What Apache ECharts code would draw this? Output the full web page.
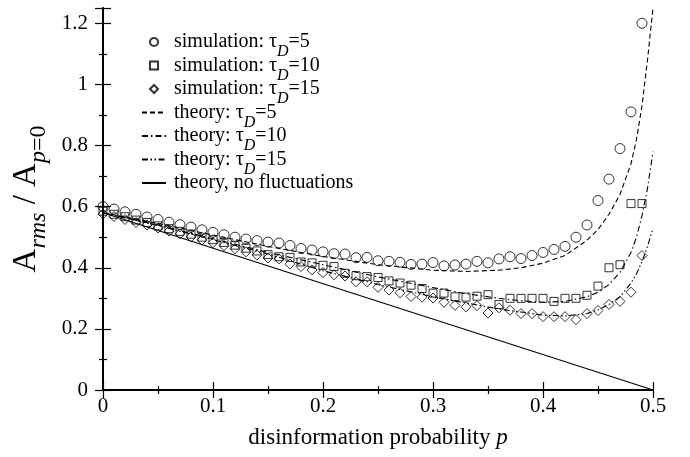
<!DOCTYPE html>
<html>
<head>
<meta charset="utf-8">
<script src="https://cdn.jsdelivr.net/npm/echarts@6/dist/echarts.min.js"></script>
<style>
  html, body { margin: 0; padding: 0; background: #fff; }
  #chart { width: 690px; height: 457px; }
</style>
</head>
<body>
<div id="chart"></div>
<script>
// simulation points, p in steps of 0.01
const pSim = [0, 0.01, 0.02, 0.03, 0.04, 0.05, 0.06, 0.07, 0.08, 0.09,
    0.10, 0.11, 0.12, 0.13, 0.14, 0.15, 0.16, 0.17, 0.18, 0.19,
    0.20, 0.21, 0.22, 0.23, 0.24, 0.25, 0.26, 0.27, 0.28, 0.29,
    0.30, 0.31, 0.32, 0.33, 0.34, 0.35, 0.36, 0.37, 0.38, 0.39,
    0.40, 0.41, 0.42, 0.43, 0.44, 0.45, 0.46, 0.47, 0.48, 0.49];
const sim5 = [0.600, 0.592, 0.583, 0.575, 0.566, 0.558, 0.549, 0.541, 0.533, 0.524,
    0.516, 0.508, 0.500, 0.494, 0.489, 0.484, 0.481, 0.473, 0.463, 0.458,
    0.452, 0.446, 0.445, 0.433, 0.434, 0.423, 0.421, 0.418, 0.411, 0.412,
    0.417, 0.406, 0.409, 0.412, 0.421, 0.416, 0.429, 0.436, 0.430, 0.440,
    0.450, 0.460, 0.470, 0.500, 0.540, 0.620, 0.690, 0.790, 0.910, 1.200];
const sim10 = [0.585, 0.575, 0.567, 0.556, 0.548, 0.537, 0.528, 0.519, 0.510, 0.500,
    0.492, 0.483, 0.474, 0.464, 0.455, 0.443, 0.436, 0.434, 0.419, 0.416,
    0.408, 0.404, 0.382, 0.374, 0.371, 0.368, 0.357, 0.350, 0.343, 0.332,
    0.317, 0.317, 0.305, 0.304, 0.307, 0.312, 0.280, 0.300, 0.300, 0.300,
    0.300, 0.290, 0.300, 0.300, 0.310, 0.340, 0.400, 0.410, 0.610, 0.610];
const sim15 = [0.576, 0.568, 0.558, 0.548, 0.540, 0.530, 0.520, 0.511, 0.501, 0.491,
    0.482, 0.472, 0.462, 0.452, 0.442, 0.432, 0.429, 0.412, 0.404, 0.393,
    0.384, 0.377, 0.373, 0.354, 0.354, 0.336, 0.327, 0.318, 0.306, 0.304,
    0.301, 0.287, 0.277, 0.272, 0.276, 0.252, 0.269, 0.261, 0.250, 0.250,
    0.240, 0.240, 0.240, 0.230, 0.250, 0.260, 0.280, 0.290, 0.320, 0.440];

// theory curves
const pTh = [0, 0.05, 0.10, 0.15, 0.20, 0.25, 0.30, 0.33, 0.36, 0.38, 0.40,
    0.42, 0.44, 0.45, 0.46, 0.47, 0.48, 0.485, 0.49, 0.495, 0.50];
const th5 = [0.58, 0.545, 0.507, 0.470, 0.437, 0.410, 0.392, 0.388, 0.392, 0.400, 0.415,
    0.440, 0.490, 0.525, 0.575, 0.640, 0.740, 0.820, 0.930, 1.080, 1.250];
const th10 = [0.58, 0.540, 0.495, 0.450, 0.410, 0.370, 0.335, 0.315, 0.300, 0.292, 0.287,
    0.290, 0.305, 0.320, 0.345, 0.385, 0.450, 0.500, 0.570, 0.660, 0.780];
const th15 = [0.58, 0.538, 0.492, 0.445, 0.390, 0.345, 0.305, 0.285, 0.265, 0.255, 0.245,
    0.242, 0.250, 0.262, 0.280, 0.305, 0.350, 0.380, 0.420, 0.470, 0.530];
const pLin = [0, 0.5];
const thLin = [0.58, 0];

const legendText = {
    sim5: 'simulation: τ{d|D}=5',
    sim10: 'simulation: τ{d|D}=10',
    sim15: 'simulation: τ{d|D}=15',
    th5: 'theory: τ{d|D}=5',
    th10: 'theory: τ{d|D}=10',
    th15: 'theory: τ{d|D}=15',
    th0: 'theory, no fluctuations'
};

const font = 'Liberation Serif';
const pairs = (xs, ys) => xs.map((x, i) => [x, ys[i]]);

const chart = echarts.init(document.getElementById('chart'));

const frame = { lineStyle: { color: '#000', width: 2 } };
const frame2 = { lineStyle: { color: '#000', width: 1.5 } };
const tick = { inside: true, length: 8, lineStyle: { color: '#000', width: 1.2 } };
const minor = { show: true, splitNumber: 2, length: 4, lineStyle: { color: '#000', width: 1.2 } };

const simStyle = (name, symbol, size, data) => ({
    name: name,
    type: 'scatter',
    symbol: symbol,
    symbolSize: size,
    data: data,
    z: 5,
    itemStyle: { color: 'transparent', borderColor: '#000', borderWidth: 1 }
});
const thStyle = (name, dash, data) => ({
    name: name,
    type: 'line',
    showSymbol: false,
    symbol: 'none',
    data: data,
    z: 3,
    itemStyle: { color: 'transparent', borderColor: 'transparent', opacity: 0 },
    lineStyle: { color: '#000', width: 1.1, type: dash }
});

chart.setOption({
    animation: false,
    backgroundColor: '#fff',
    grid: { left: 103, right: 37, top: 8, bottom: 67 },
    legend: {
        orient: 'vertical',
        left: 136,
        top: 26,
        itemWidth: 24,
        itemHeight: 8,
        itemGap: -5.5,
        selectedMode: false,
        data: [
            { name: 'sim5' },
            { name: 'sim10', icon: 'path://M0,0L10,0L10,10L0,10Z' },
            { name: 'sim15', icon: 'path://M5,0L10,5L5,10L0,5Z' },
            { name: 'th5' }, { name: 'th10' }, { name: 'th15' }, { name: 'th0' }
        ],
        formatter: (name) => legendText[name],
        textStyle: {
            fontFamily: font,
            fontSize: 20,
            color: '#000',
            lineHeight: 22,
            padding: [0, 0, 0, 3],
            rich: {
                d: { fontFamily: font, fontSize: 16, fontStyle: 'italic', color: '#000',
                    lineHeight: 22, verticalAlign: 'top', padding: [13, 0, 0, 0] }
            }
        }
    },
    xAxis: [{
        type: 'value', min: 0, max: 0.5, interval: 0.1,
        axisLine: frame, axisTick: tick, minorTick: minor,
        splitLine: { show: false },
        axisLabel: { fontFamily: font, fontSize: 21, color: '#000', margin: 6 },
        name: 'disinformation probability {i|p}',
        nameLocation: 'middle',
        nameGap: 36,
        nameTextStyle: {
            fontFamily: font, fontSize: 23, color: '#000',
            rich: { i: { fontFamily: font, fontSize: 23, fontStyle: 'italic', color: '#000' } }
        }
    }, {
        type: 'value', min: 0, max: 0.5, interval: 0.1, position: 'top',
        axisLine: frame2, axisTick: tick, minorTick: minor,
        splitLine: { show: false }, axisLabel: { show: false }
    }],
    yAxis: [{
        type: 'value', min: 0, max: 1.25, interval: 0.2,
        axisLine: frame, axisTick: tick, minorTick: minor,
        splitLine: { show: false },
        axisLabel: { fontFamily: font, fontSize: 21, color: '#000', margin: 15, showMaxLabel: false },
        name: 'A{s|rms} / A{s|p}{u|=0}',
        nameLocation: 'middle',
        nameRotate: 90,
        nameGap: 49,
        nameTextStyle: {
            fontFamily: font, fontSize: 33, color: '#000', lineHeight: 34,
            rich: {
                s: { fontFamily: font, fontSize: 24, fontStyle: 'italic', color: '#000',
                    lineHeight: 34, verticalAlign: 'top', padding: [18, 0, 0, 0] },
                u: { fontFamily: font, fontSize: 24, color: '#000',
                    lineHeight: 34, verticalAlign: 'top', padding: [18, 0, 0, 0] }
            }
        }
    }, {
        type: 'value', min: 0, max: 1.25, interval: 0.2, position: 'right',
        axisLine: frame2, axisTick: tick, minorTick: minor,
        splitLine: { show: false }, axisLabel: { show: false }
    }],
    series: [
        simStyle('sim5', 'circle', 10, pairs(pSim, sim5)),
        simStyle('sim10', 'rect', 8, pairs(pSim, sim10)),
        simStyle('sim15', 'diamond', 10, pairs(pSim, sim15)),
        thStyle('th5', [5, 3], pairs(pTh, th5)),
        thStyle('th10', [6, 3, 1.5, 3], pairs(pTh, th10)),
        thStyle('th15', [6, 2.5, 1.5, 2.5, 1.5, 2.5], pairs(pTh, th15)),
        thStyle('th0', 'solid', pairs(pLin, thLin))
    ]
});
</script>
</body>
</html>
